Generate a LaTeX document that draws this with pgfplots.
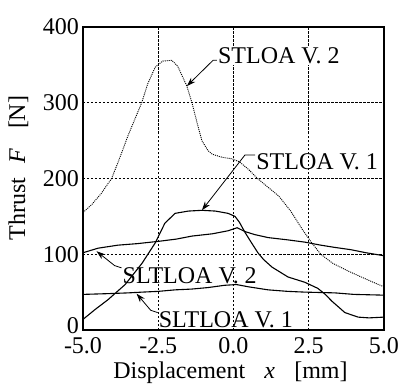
\documentclass[border=0pt]{standalone}
\usepackage{fontspec}
\setmainfont{Liberation Serif}
\usepackage{pgfplots}
\pgfplotsset{compat=1.18}
\usetikzlibrary{arrows.meta}
\begin{document}
\fontsize{24bp}{28bp}\selectfont
\begin{tikzpicture}
\begin{axis}[
  scale only axis,
  width=301bp, height=303bp,
  xmin=-5, xmax=5, ymin=0, ymax=400,
  axis line style={line width=1.1bp},
  xtick={-5,-2.5,0,2.5,5},
  xticklabels={-5.0,-2.5,0.0,2.5,5.0},
  ytick={0,100,200,300,400},
  yticklabels={\raisebox{8bp}{0},100,200,300,400},
  major tick length=0pt,
  /pgf/number format/assume math mode=true,
  tick label style={font=\fontsize{24bp}{28bp}\selectfont, inner sep=1bp},
  yticklabel style={xshift=-3bp},
  xticklabel style={yshift=-6bp},
  grid=major,
  major grid style={black, line width=0.8bp, dash pattern=on 2.5bp off 1.5bp},
  xlabel={Displacement\hspace{0.8em}\textit{x}\hspace{0.8em}[mm]},
  ylabel={Thrust\hspace{0.6em}\textit{F}\hspace{0.8em}[N]},
  xlabel style={at={(axis description cs:0.49,-0.14)}, anchor=center, inner sep=1bp},
  ylabel style={at={(axis description cs:-0.215,0.535)}, anchor=center, inner sep=1bp},
  label style={font=\fontsize{24bp}{28bp}\selectfont},
  clip=false,
]
% STLOA V.2 (dotted)
\addplot[black, line width=0.9bp, dash pattern=on 1bp off 1bp] coordinates {
(-5.0,155) (-4.7,166) (-4.4,180) (-4.05,200) (-3.8,225) (-3.5,257) (-3.05,300)
(-2.85,325) (-2.6,347) (-2.35,355) (-2.05,356) (-1.85,348) (-1.55,322) (-1.38,300)
(-1.2,272) (-1.05,250) (-0.85,237) (-0.7,232) (-0.38,228) (-0.05,226) (0.2,222)
(0.5,212) (0.8,200) (1.1,190) (1.5,177) (1.9,157) (2.3,132) (2.6,115) (2.9,100)
(3.3,88) (3.8,78) (4.3,69) (4.7,62) (5.0,57)};
% STLOA V.1
\addplot[black, line width=1.1bp] coordinates {
(-5,14) (-4.6,27) (-4.17,40) (-3.6,60) (-3.04,88) (-2.6,115) (-2.28,141) (-1.94,154)
(-1.5,157) (-1.05,158) (-0.6,157) (-0.18,154) (0.05,150) (0.2,142) (0.38,129) (0.6,115)
(0.81,102) (1.0,93) (1.28,83) (1.81,70) (2.37,63) (2.8,55) (3.05,47) (3.27,38) (3.5,30)
(3.7,23) (4.14,17) (4.5,16) (5.0,17)};
% SLTLOA V.2
\addplot[black, line width=1.1bp] coordinates {
(-5,102) (-4.5,108) (-3.84,112) (-3.2,114) (-2.5,117) (-1.9,120) (-1.38,124) (-0.7,127)
(-0.18,131) (0.12,135) (0.38,130) (0.7,126) (1.15,122) (1.8,119) (2.37,116) (2.9,112)
(3.37,109) (3.9,106) (4.4,102) (5.0,98)};
% SLTLOA V.1
\addplot[black, line width=1.1bp] coordinates {
(-5,47) (-4.17,48) (-3.5,49) (-3.04,50) (-2.5,51) (-1.94,53) (-1.4,54) (-0.85,56)
(-0.3,59) (0.1,60) (0.5,57) (1.15,53) (1.8,51) (2.37,50) (3.37,49) (4.0,47) (5.0,46)};
% annotations
\node[anchor=west, inner sep=1bp, fill=white] at (axis cs:-0.55,362) {STLOA V. 2};
\draw[line width=0.8bp, -{Stealth[length=9bp,width=6bp]}] (axis cs:-0.55,356) -- (axis cs:-0.68,356) -- (axis cs:-1.55,322);
\node[anchor=west, inner sep=1bp] at (axis cs:0.72,222) {STLOA V. 1};
\draw[line width=0.8bp, -{Stealth[length=9bp,width=6bp]}] (axis cs:0.72,231) -- (axis cs:0.38,231) -- (axis cs:-1.05,158);
\node[anchor=west, inner sep=1bp] at (axis cs:-3.72,72) {SLTLOA V. 2};
\draw[line width=0.8bp, -{Stealth[length=9bp,width=6bp]}] (axis cs:-3.72,82) -- (axis cs:-3.95,85) -- (axis cs:-4.55,104);
\node[anchor=west, inner sep=1bp] at (axis cs:-2.52,13) {SLTLOA V. 1};
\draw[line width=0.8bp, -{Stealth[length=9bp,width=6bp]}] (axis cs:-2.52,23) -- (axis cs:-2.75,26) -- (axis cs:-3.22,48);
\coordinate (SW) at (rel axis cs:0,0);
\coordinate (NE) at (rel axis cs:1,1);
\end{axis}
\pgfresetboundingbox
\path[use as bounding box] ([shift={(-83bp,-57bp)}]SW) rectangle ([shift={(14bp,27bp)}]NE);
\end{tikzpicture}
\end{document}
